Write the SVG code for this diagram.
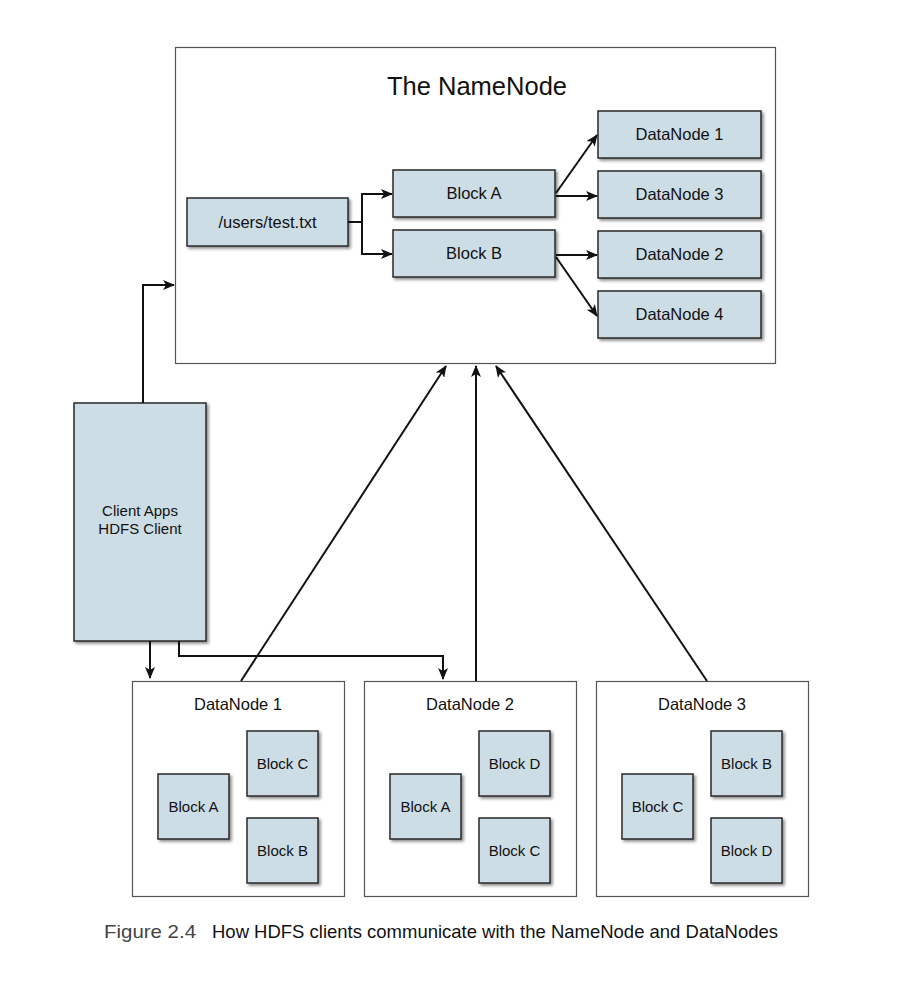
<svg xmlns="http://www.w3.org/2000/svg" width="902" height="1008" viewBox="0 0 902 1008">
<defs>
<filter id="sh" x="-10%" y="-10%" width="130%" height="130%">
<feDropShadow dx="2" dy="2" stdDeviation="1.5" flood-color="#000" flood-opacity="0.45"/>
</filter>
<marker id="ah" markerWidth="12" markerHeight="10" refX="11" refY="5" orient="auto" markerUnits="userSpaceOnUse">
<path d="M0,0 L12,5 L0,10 L3,5 Z" fill="#111"/>
</marker>
</defs>
<style>
.b{fill:#cddde6;stroke:#2a2a2a;stroke-width:1.5;filter:url(#sh)}
.o{fill:#fff;stroke:#555;stroke-width:1.2}
.t{font-family:"Liberation Sans",Arial,sans-serif;font-size:16.5px;fill:#111;text-anchor:middle}
.s{font-family:"Liberation Sans",Arial,sans-serif;font-size:15px;fill:#111;text-anchor:middle}
.c{fill:none;stroke:#111;stroke-width:2}
</style>
<rect width="902" height="1008" fill="#fff"/>

<g id="namenode">
<rect class="o" x="175.5" y="47.5" width="600" height="316"/>
<text class="t" x="477" y="95" style="font-size:25.5px">The NameNode</text>
</g>
<g id="file"><rect class="b" x="187" y="198" width="161" height="48"/><text class="t" x="267.5" y="228">/users/test.txt</text></g>
<g id="blockA"><rect class="b" x="393" y="170" width="162" height="47"/><text class="t" x="474" y="199">Block A</text></g>
<g id="blockB"><rect class="b" x="393" y="230" width="162" height="47"/><text class="t" x="474" y="259">Block B</text></g>
<g id="nn-dn1"><rect class="b" x="598" y="111" width="163" height="47"/><text class="t" x="679.5" y="140">DataNode 1</text></g>
<g id="nn-dn3"><rect class="b" x="598" y="171" width="163" height="47"/><text class="t" x="679.5" y="200">DataNode 3</text></g>
<g id="nn-dn2"><rect class="b" x="598" y="231" width="163" height="47"/><text class="t" x="679.5" y="260">DataNode 2</text></g>
<g id="nn-dn4"><rect class="b" x="598" y="291" width="163" height="47"/><text class="t" x="679.5" y="320">DataNode 4</text></g>

<g id="client"><rect class="b" x="74" y="403" width="132" height="238"/>
<text class="s" x="140" y="516">Client Apps</text><text class="s" x="140" y="534">HDFS Client</text></g>

<g id="datanode1">
<rect class="o" x="132.5" y="681.5" width="212" height="215"/>
<text class="t" x="238" y="710">DataNode 1</text>
<rect class="b" x="158" y="774" width="71" height="65"/><text class="s" x="193.5" y="812">Block A</text>
<rect class="b" x="247" y="731" width="71" height="65"/><text class="s" x="282.5" y="769">Block C</text>
<rect class="b" x="247" y="818" width="71" height="65"/><text class="s" x="282.5" y="856">Block B</text>
</g>
<g id="datanode2">
<rect class="o" x="364.5" y="681.5" width="212" height="215"/>
<text class="t" x="470" y="710">DataNode 2</text>
<rect class="b" x="390" y="774" width="71" height="65"/><text class="s" x="425.5" y="812">Block A</text>
<rect class="b" x="479" y="731" width="71" height="65"/><text class="s" x="514.5" y="769">Block D</text>
<rect class="b" x="479" y="818" width="71" height="65"/><text class="s" x="514.5" y="856">Block C</text>
</g>
<g id="datanode3">
<rect class="o" x="596.5" y="681.5" width="212" height="215"/>
<text class="t" x="702" y="710">DataNode 3</text>
<rect class="b" x="622" y="774" width="71" height="65"/><text class="s" x="657.5" y="812">Block C</text>
<rect class="b" x="711" y="731" width="71" height="65"/><text class="s" x="746.5" y="769">Block B</text>
<rect class="b" x="711" y="818" width="71" height="65"/><text class="s" x="746.5" y="856">Block D</text>
</g>

<g id="connectors">
<path class="c" d="M348,222 H362 V194 H392" marker-end="url(#ah)"/>
<path class="c" d="M362,222 V254 H392" marker-end="url(#ah)"/>
<path class="c" d="M556,193 L597,135" marker-end="url(#ah)"/>
<path class="c" d="M556,196 H597" marker-end="url(#ah)"/>
<path class="c" d="M556,255 H597" marker-end="url(#ah)"/>
<path class="c" d="M556,257 L597,316" marker-end="url(#ah)"/>
<path class="c" d="M143,403 V285 H174" marker-end="url(#ah)"/>
<path class="c" d="M150,641 V678" marker-end="url(#ah)"/>
<path class="c" d="M179,641 V656 H443 V679" marker-end="url(#ah)"/>
<path class="c" d="M241,681 L446,366" marker-end="url(#ah)"/>
<path class="c" d="M476,681 V366" marker-end="url(#ah)"/>
<path class="c" d="M707,681 L496,366" marker-end="url(#ah)"/>
</g>

<g id="caption" font-family="'Liberation Sans',Arial,sans-serif" font-size="18.5">
<text x="104" y="938" fill="#444" textLength="92" lengthAdjust="spacingAndGlyphs">Figure 2.4</text>
<text x="212" y="938" fill="#111" textLength="566" lengthAdjust="spacingAndGlyphs">How HDFS clients communicate with the NameNode and DataNodes</text>
</g>
</svg>
